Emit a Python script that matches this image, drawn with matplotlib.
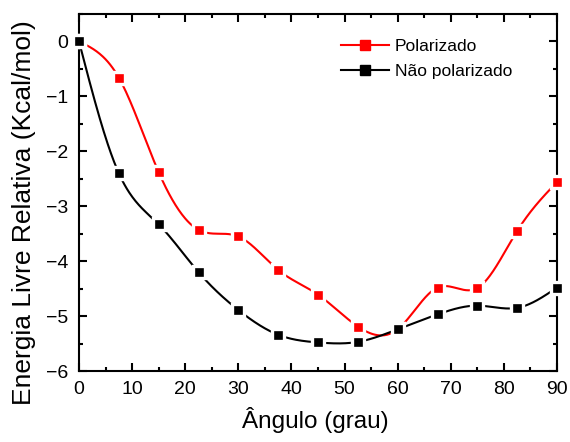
import numpy as np
import matplotlib
matplotlib.use("Agg")
import matplotlib.pyplot as plt
from matplotlib.lines import Line2D
from matplotlib.ticker import MultipleLocator

plt.rcParams['font.family'] = ['Liberation Sans', 'DejaVu Sans']

# Torsion angle (degrees) and relative free energy (kcal/mol)
angulo = [0, 7.5, 15, 22.5, 30, 37.5, 45, 52.5, 60, 67.5, 75, 82.5, 90]
polarizado = [0.0, -0.66, -2.38, -3.43, -3.55, -4.16, -4.61, -5.19, -5.24,
              -4.48, -4.49, -3.45, -2.56]
nao_polarizado = [0.0, -2.40, -3.33, -4.20, -4.89, -5.34, -5.48, -5.47, -5.24,
                  -4.97, -4.81, -4.85, -4.48]
labels = ["Polarizado", "Não polarizado"]
colors = ["#FF0000", "#000000"]


def spline_curve(x, y, num=600):
    """Natural cubic spline through the given points."""
    x = np.asarray(x, float)
    y = np.asarray(y, float)
    n = len(x)
    h = np.diff(x)
    A = np.zeros((n, n))
    b = np.zeros(n)
    A[0, 0] = 1.0
    A[-1, -1] = 1.0
    for i in range(1, n - 1):
        A[i, i - 1] = h[i - 1]
        A[i, i] = 2 * (h[i - 1] + h[i])
        A[i, i + 1] = h[i]
        b[i] = 6 * ((y[i + 1] - y[i]) / h[i] - (y[i] - y[i - 1]) / h[i - 1])
    M = np.linalg.solve(A, b)
    xs = np.linspace(x[0], x[-1], num)
    idx = np.clip(np.searchsorted(x, xs) - 1, 0, n - 2)
    x0, x1 = x[idx], x[idx + 1]
    hh = x1 - x0
    ys = (M[idx] * (x1 - xs) ** 3 / (6 * hh)
          + M[idx + 1] * (xs - x0) ** 3 / (6 * hh)
          + (y[idx] / hh - M[idx] * hh / 6) * (x1 - xs)
          + (y[idx + 1] / hh - M[idx + 1] * hh / 6) * (xs - x0))
    return xs, ys


fig = plt.figure(figsize=(5.70, 4.42), dpi=100)
ax = fig.add_axes([79 / 570, 71 / 442, 478 / 570, 357 / 442])

z = 2
for serie, cor in zip([polarizado, nao_polarizado], colors):
    xs, ys = spline_curve(angulo, serie)
    ax.plot(xs, ys, color=cor, lw=1.5, zorder=z, solid_capstyle='butt')
    ax.plot(angulo, serie, ls='none', marker='s', ms=9.3, mfc=cor,
            mec='white', mew=2.4, zorder=z + 1, clip_on=False)
    z += 2

ax.set_xlim(0, 90)
ax.set_ylim(-6, 0.5)
ax.xaxis.set_major_locator(MultipleLocator(10))
ax.xaxis.set_minor_locator(MultipleLocator(5))
ax.yaxis.set_minor_locator(MultipleLocator(0.5))
ax.set_yticks(np.arange(-6, 0.5, 1))

for s in ax.spines.values():
    s.set_linewidth(1.5)
ax.tick_params(which='both', direction='in', top=True, right=True,
               width=1.5, labelsize=14)
ax.tick_params(which='major', length=5.5, pad=7.5)
ax.tick_params(which='minor', length=3)

fig.text(315 / 570, (442 - 428) / 442, "Ângulo (grau)", fontsize=17.5,
         ha='center', va='baseline')
fig.text(24 / 570, (442 - 213) / 442, "Energia Livre Relativa (Kcal/mol)",
         fontsize=19, rotation=90, ha='center', va='center')

handles = [Line2D([], [], color=c, lw=1.5, marker='s', ms=7, mfc=c, mec=c)
           for c in colors]
ax.legend(handles, labels, loc='upper left', bbox_to_anchor=(0.548, 0.930),
          frameon=False, fontsize=12.5, handlelength=2.75, handletextpad=0.35,
          labelspacing=0.55, borderpad=0, borderaxespad=0)

fig.savefig("out.png", dpi=100)
